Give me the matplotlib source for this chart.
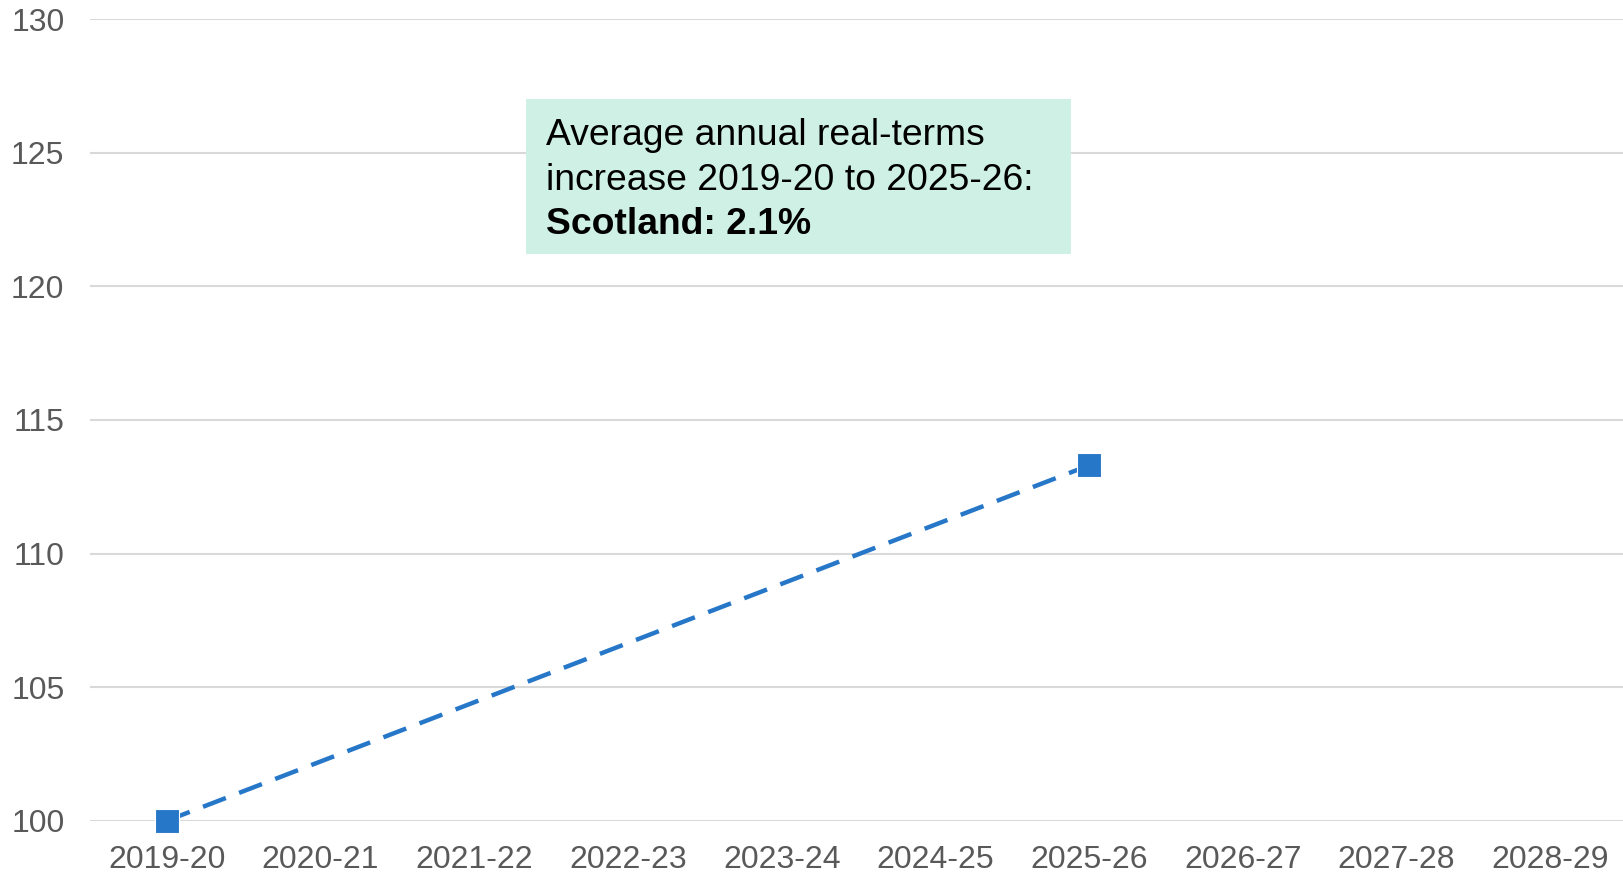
import numpy as np
import matplotlib.pyplot as plt
from matplotlib.patches import Rectangle

plt.rcParams['font.family'] = ['Liberation Sans', 'DejaVu Sans']

# Real-terms index, 2019-20 = 100
years = ['2019-20', '2020-21', '2021-22', '2022-23', '2023-24',
         '2024-25', '2025-26', '2026-27', '2027-28', '2028-29']
index = [100, np.nan, np.nan, np.nan, np.nan, np.nan, 113.3, np.nan, np.nan, np.nan]
yticks = [100, 105, 110, 115, 120, 125, 130]
note_lines = ['Average annual real-terms', 'increase 2019-20 to 2025-26:']
note_bold = 'Scotland: 2.1%'

blue = '#2777C9'
grey = '#595959'

fig = plt.figure(figsize=(16.23, 8.74), dpi=100)
ax = fig.add_axes([0.0555, 0.061, 0.9445, 0.917])

x = np.arange(len(years))
v = np.array(index, dtype=float)
ok = ~np.isnan(v)
ax.plot(x[ok], v[ok], color=blue, lw=3.2, dashes=(5.5, 3.2),
        dash_capstyle='butt', zorder=3)
ax.plot(x[ok], v[ok], 's', color=blue, ms=17.5, mec='white', mew=0.8,
        zorder=4, lw=0, clip_on=False)

ax.set_xlim(-0.5, 9.474)
ax.set_ylim(100, 130)
ax.set_xticks(x)
ax.set_xticklabels(years)
ax.set_yticks(yticks)
ax.tick_params(axis='both', length=0, labelsize=23, colors=grey)
ax.tick_params(axis='y', pad=18.5)
ax.tick_params(axis='x', pad=17.5)
ax.grid(axis='y', color='#D9D9D9', lw=1.5)
ax.set_axisbelow(True)
for s in ax.spines.values():
    s.set_visible(False)

# annotation box
W, H = 1623, 874
fig.patches.append(Rectangle((526 / W, 1 - 254 / H), (1071 - 526) / W, (254 - 99) / H,
                             transform=fig.transFigure, facecolor='#CFF0E4',
                             edgecolor='none', zorder=5))
tx = 546 / W
for i, line in enumerate(note_lines):
    fig.text(tx, 1 - (135.5 + 44.5 * i) / H, line, fontsize=26.8, color='black',
             va='center', ha='left', zorder=6)
fig.text(tx, 1 - (135.5 + 89) / H, note_bold, fontsize=26.8, color='black',
         fontweight='bold', va='center', ha='left', zorder=6)

fig.savefig('out.png', dpi=100)
